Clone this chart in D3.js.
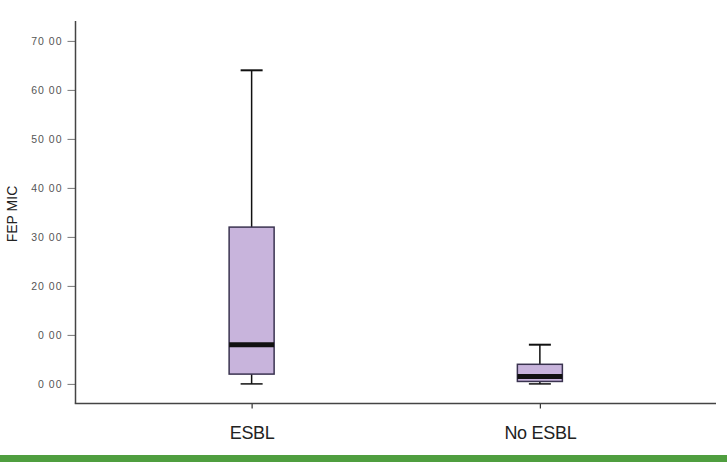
<!DOCTYPE html>
<html>
<head>
<meta charset="utf-8">
<script src="https://cdn.jsdelivr.net/npm/d3@7"></script>
<style>
  body { margin: 0; background: #fff; }
  svg { display: block; }
</style>
</head>
<body>
<div id="chart"></div>
<script>
// groups and their box summary (min, q1, median, q3, max)
const categories = ['ESBL', 'No ESBL'];
const mins    = [0, 0];
const q1s     = [2, 0.5];
const medians = [8, 1.5];
const q3s     = [32, 4];
const maxs    = [64, 8];

const tickValues = [0, 10, 20, 30, 40, 50, 60, 70];
const tickLabels = ['0 00', '0 00', '20 00', '30 00', '40 00', '50 00', '60 00', '70 00'];

const WIDTH = 727, HEIGHT = 462;
const AXIS_X = 75.5, AXIS_Y = 403.5, AXIS_RIGHT = 716, AXIS_TOP = 21;

const svg = d3.select('#chart').append('svg')
    .attr('width', WIDTH)
    .attr('height', HEIGHT);

const x = d3.scalePoint()
    .domain(categories)
    .range([AXIS_X, AXIS_RIGHT])
    .padding(0.611);

const y = d3.scaleLinear()
    .domain([-4, 74])
    .range([AXIS_Y, AXIS_Y - 78 * 4.9]);

const boxes = categories.map((c, i) => ({
    cat: c, min: mins[i], q1: q1s[i], med: medians[i], q3: q3s[i], max: maxs[i]
}));

// y axis
const yAxis = svg.append('g')
    .attr('transform', `translate(${AXIS_X},0)`)
    .call(d3.axisLeft(y).tickValues(tickValues)
        .tickSize(8).tickPadding(5)
        .tickFormat((d, i) => tickLabels[i]));
yAxis.select('.domain').remove();
yAxis.selectAll('.tick line').attr('stroke', '#777').attr('stroke-width', 1);
yAxis.selectAll('.tick text')
    .attr('fill', '#555')
    .style('font-family', '"Liberation Sans", Arial, sans-serif')
    .style('font-size', '10.5px')
    .style('letter-spacing', '1px');

svg.append('line')
    .attr('x1', AXIS_X).attr('x2', AXIS_X)
    .attr('y1', AXIS_TOP).attr('y2', AXIS_Y)
    .attr('stroke', '#444').attr('stroke-width', 1.5);

// x axis
const xAxis = svg.append('g')
    .attr('transform', `translate(0,${AXIS_Y})`)
    .call(d3.axisBottom(x).tickSize(5).tickPadding(18));
xAxis.select('.domain').remove();
xAxis.selectAll('.tick line').attr('stroke', '#333').attr('stroke-width', 1.2);
xAxis.selectAll('.tick text')
    .attr('fill', '#222')
    .style('font-family', '"Liberation Sans", Arial, sans-serif')
    .style('font-size', '18px')
    .style('letter-spacing', '-0.3px');

svg.append('line')
    .attr('x1', AXIS_X - 0.75).attr('x2', AXIS_RIGHT)
    .attr('y1', AXIS_Y).attr('y2', AXIS_Y)
    .attr('stroke', '#444').attr('stroke-width', 1.5);

// y label
svg.append('text')
    .attr('transform', 'translate(17,214) rotate(-90)')
    .attr('text-anchor', 'middle')
    .attr('fill', '#222')
    .style('font-family', '"Liberation Sans", Arial, sans-serif')
    .style('font-size', '14px')
    .text('FEP MIC');

// boxes
const BOX_W = 45, CAP_W = 22;
const g = svg.append('g').selectAll('g')
    .data(boxes)
    .enter()
    .append('g');

g.append('line')
    .attr('x1', d => x(d.cat)).attr('x2', d => x(d.cat))
    .attr('y1', d => y(d.max)).attr('y2', d => y(d.q3))
    .attr('stroke', '#111').attr('stroke-width', 1.5);
g.append('line')
    .attr('x1', d => x(d.cat)).attr('x2', d => x(d.cat))
    .attr('y1', d => y(d.q1)).attr('y2', d => y(d.min))
    .attr('stroke', '#111').attr('stroke-width', 1.5);
g.append('line')
    .attr('x1', d => x(d.cat) - CAP_W / 2).attr('x2', d => x(d.cat) + CAP_W / 2)
    .attr('y1', d => y(d.max)).attr('y2', d => y(d.max))
    .attr('stroke', '#111').attr('stroke-width', 2);
g.append('line')
    .attr('x1', d => x(d.cat) - CAP_W / 2).attr('x2', d => x(d.cat) + CAP_W / 2)
    .attr('y1', d => y(d.min)).attr('y2', d => y(d.min))
    .attr('stroke', '#111').attr('stroke-width', 1.5);
g.append('rect')
    .attr('x', d => x(d.cat) - BOX_W / 2)
    .attr('width', BOX_W)
    .attr('y', d => y(d.q3))
    .attr('height', d => y(d.q1) - y(d.q3))
    .attr('fill', '#c8b4dc')
    .attr('stroke', '#3a3350').attr('stroke-width', 1.5);
g.append('line')
    .attr('x1', d => x(d.cat) - BOX_W / 2).attr('x2', d => x(d.cat) + BOX_W / 2)
    .attr('y1', d => y(d.med)).attr('y2', d => y(d.med))
    .attr('stroke', '#111').attr('stroke-width', 5);

// green footer band
svg.append('rect')
    .attr('x', 0).attr('y', 455)
    .attr('width', WIDTH).attr('height', HEIGHT - 455)
    .attr('fill', '#4f9e3f');
</script>
</body>
</html>
